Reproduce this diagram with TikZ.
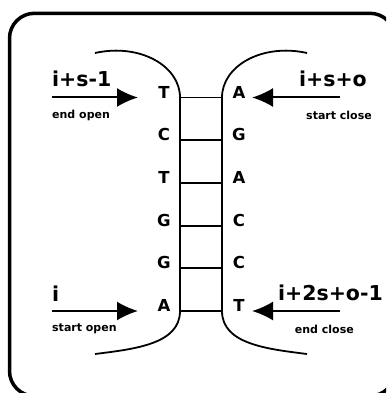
\documentclass[tikz,border=0pt]{standalone}
\usepackage{fontspec}
\setmainfont{DejaVu Sans}
\usetikzlibrary{arrows.meta,positioning}
\tikzset{base/.style={draw=none, inner sep=0pt, font=\fontsize{16.5}{16.5}\selectfont\bfseries}}
\tikzset{idx/.style={draw=none, inner sep=0pt, font=\fontsize{20.5}{20.5}\selectfont\bfseries}}
\tikzset{tag/.style={draw=none, inner sep=0pt, font=\fontsize{11}{11}\selectfont\bfseries}}
\tikzset{
  edgein/.style={black, line width=2pt, -{Latex[length=21pt,width=19pt]}},
  edgerung/.style={black, line width=1.8pt},
  edgestrand/.style={black, line width=1.8pt},
  edgebox/.style={black, line width=3.5pt, rounded corners=25pt}
}

\begin{document}
\begin{tikzpicture}[x=1pt,y=-1pt]
\useasboundingbox (0,0) rectangle (386,393);
\clip (0,0) rectangle (386,393);
\draw[edgebox] (9.5,13.3) rectangle (395,396);

\foreach \lb/\rb [count=\k from 0] in {T/A,C/G,T/A,G/C,G/C,A/T}{
  \pgfmathsetmacro\yy{97.5+42.7*\k}
  \coordinate (pl\k) at (180,\yy);
  \coordinate (pr\k) at (222,\yy);
  \node[base] (l\k) at (164,\yy-5.5) {\lb};
  \node[base] (r\k) at (239,\yy-5.5) {\rb};
  \draw[edgerung] (pl\k) -- (pr\k);
}

\coordinate (sa) at (95,53);
\coordinate (sb) at (307,53);
\coordinate (sc) at (95,354);
\coordinate (sd) at (307,354);

\draw[edgestrand] (sa) .. controls (140,43) and (180,66) .. (pl0)
  -- (pl5) .. controls (180,344) and (135,349) .. (sc);
\draw[edgestrand] (sb) .. controls (262,43) and (222,66) .. (pr0)
  -- (pr5) .. controls (222,344) and (267,349) .. (sd);

\coordinate (a1) at (52,97.5);
\coordinate (t1) at (138,97.5);
\coordinate (a2) at (340,97.5);
\coordinate (t2) at (252,97.5);
\coordinate (a3) at (52,311);
\coordinate (t3) at (138,311);
\coordinate (a4) at (340,311);
\coordinate (t4) at (252,311);

\draw[edgein] (a1) -- (t1);
\draw[edgein] (a2) -- (t2);
\draw[edgein] (a3) -- (t3);
\draw[edgein] (a4) -- (t4);

\node[idx, anchor=base west] (n1) at (52,87) {i+s-1};
\node[tag, anchor=west] (n2) at (52,115) {end open};
\node[idx, anchor=base east] (n3) at (367,87) {i+s+o};
\node[tag, anchor=east] (n4) at (372,115) {start close};
\node[idx, anchor=base west] (n5) at (52,301) {i};
\node[tag, anchor=west] (n6) at (52,329) {start open};
\node[idx, anchor=base east] (n7) at (383,300) {i+2s+o-1};
\node[tag, anchor=east] (n8) at (354,329) {end close};
\end{tikzpicture}
\end{document}
